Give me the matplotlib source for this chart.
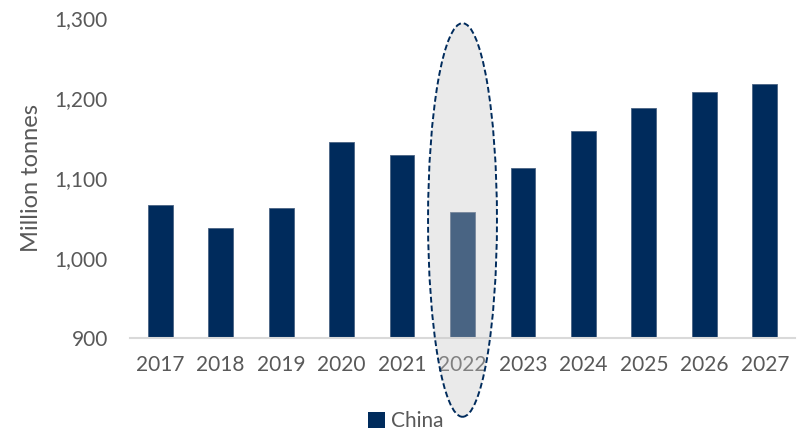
import matplotlib.pyplot as plt
from matplotlib.patches import Ellipse, Patch
from matplotlib.ticker import FuncFormatter

years = ['2017', '2018', '2019', '2020', '2021', '2022',
         '2023', '2024', '2025', '2026', '2027']
china = [1066, 1038, 1063, 1145, 1129, 1057, 1113, 1159, 1188, 1207, 1218]
highlight = '2022'

navy = '#002b5c'
grey_text = '#595959'

plt.rcParams['font.family'] = ['Lato', 'DejaVu Sans']

fig = plt.figure(figsize=(8.04, 4.33), dpi=100)
ax = fig.add_axes([0.1617, 0.2194, 0.8271, 0.739])

x = list(range(len(years)))
ax.bar(x, china, width=0.41, bottom=0, color=navy,
       edgecolor='#4a6384', linewidth=0.6, zorder=2)

ax.set_xlim(-0.5, len(years) - 0.5)
ax.set_ylim(900, 1300)
ax.set_yticks([900, 1000, 1100, 1200, 1300])
ax.yaxis.set_major_formatter(FuncFormatter(lambda v, p: f'{v:,.0f}'))
ax.set_xticks(x)
ax.set_xticklabels(years)

ax.tick_params(axis='both', length=0, labelsize=15, colors=grey_text)
ax.tick_params(axis='x', pad=12)
ax.tick_params(axis='y', pad=16)
ax.set_ylabel('Million tonnes', fontsize=17, color=grey_text, labelpad=9)

for side in ['top', 'right', 'left']:
    ax.spines[side].set_visible(False)
ax.spines['bottom'].set_color('#d9d9d9')
ax.spines['bottom'].set_linewidth(1.5)

# dashed shaded ellipse around the 2022 column
i = years.index(highlight)
oval = Ellipse((i, 1047.5), width=1.14, height=492, facecolor=(0.78, 0.78, 0.78, 0.37),
               edgecolor=navy, linestyle=(0, (3, 1.5)), linewidth=1.4,
               clip_on=False, zorder=5)
ax.add_patch(oval)

ax.legend(handles=[Patch(facecolor=navy, label='China')], loc='lower center',
          bbox_to_anchor=(0.415, -0.35), frameon=False, fontsize=15,
          handlelength=0.8, handleheight=0.8, handletextpad=0.3,
          labelcolor=grey_text)

fig.savefig('out.png', dpi=100)
